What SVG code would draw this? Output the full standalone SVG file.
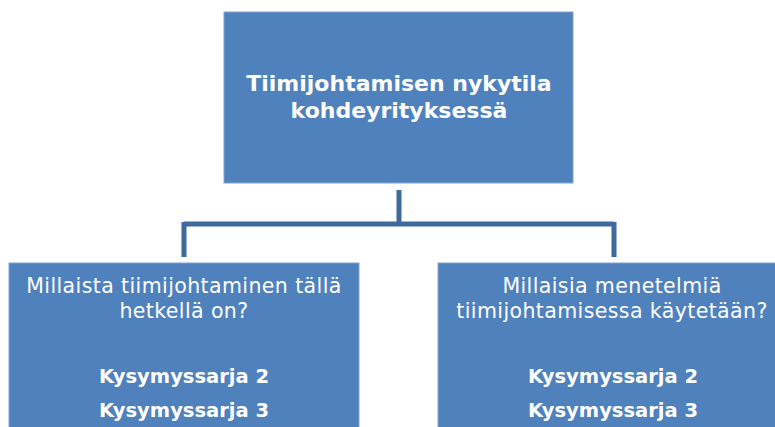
<svg xmlns="http://www.w3.org/2000/svg" width="775" height="427" viewBox="0 0 775 427">
<style>
.box{fill:#4f81bd;stroke:#7ea3cf;stroke-width:1}
.t{font-family:"DejaVu Sans","Liberation Sans",sans-serif;fill:#ffffff;text-anchor:middle}
.r{font-size:20.5px;letter-spacing:0.4px}
.b{font-weight:bold}
.c{stroke:#3e6a9c;stroke-width:5;fill:none}
</style>
<rect width="775" height="427" fill="#ffffff"/>
<g id="connectors">
<path class="c" d="M399 190 V224 M184 224 H614 M184 222 V257 M614 222 V257"/>
</g>
<g id="top">
<rect class="box" x="224" y="12" width="349" height="171"/>
<text class="t b" font-size="22" x="399" y="91">Tiimijohtamisen nykytila</text>
<text class="t b" font-size="22" x="399" y="118">kohdeyrityksessä</text>
</g>
<g id="left">
<rect class="box" x="9" y="263" width="350" height="170"/>
<text class="t r" x="184" y="293">Millaista tiimijohtaminen tällä</text>
<text class="t r" x="184" y="318">hetkellä on?</text>
<text class="t b" font-size="19.5" x="184" y="383">Kysymyssarja 2</text>
<text class="t b" font-size="19.5" x="184" y="417">Kysymyssarja 3</text>
</g>
<g id="right">
<rect class="box" x="438" y="263" width="350" height="170"/>
<text class="t r" x="612" y="293">Millaisia menetelmiä</text>
<text class="t r" x="612" y="318">tiimijohtamisessa käytetään?</text>
<text class="t b" font-size="19.5" x="613" y="383">Kysymyssarja 2</text>
<text class="t b" font-size="19.5" x="613" y="417">Kysymyssarja 3</text>
</g>
</svg>
